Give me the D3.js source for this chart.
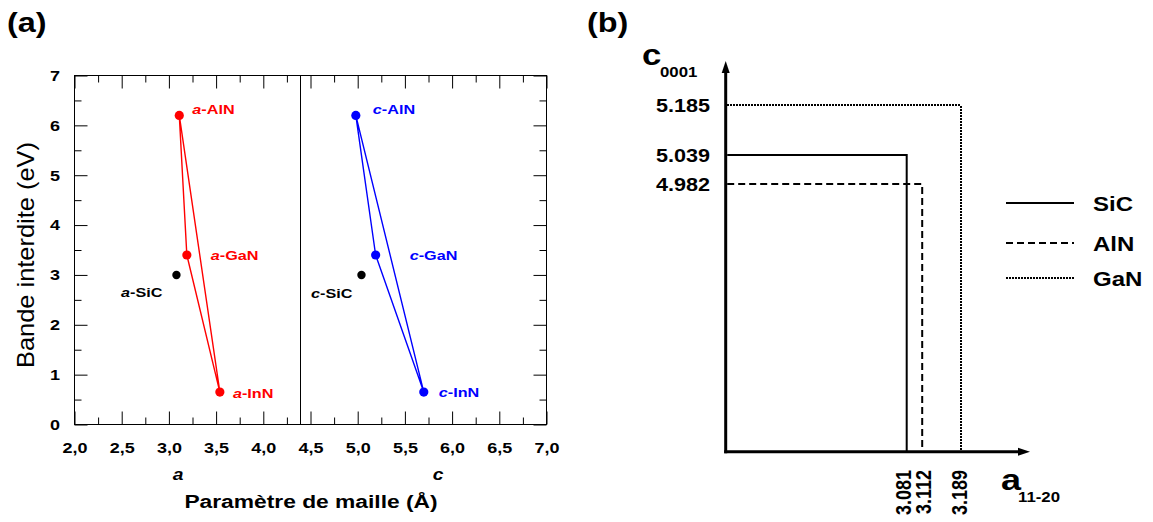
<!DOCTYPE html>
<html><head><meta charset="utf-8">
<script src="https://cdn.jsdelivr.net/npm/d3@7"></script>
<style>
html,body{margin:0;padding:0;background:#fff;}
svg{display:block;font-family:"Liberation Sans",Arial,Helvetica,sans-serif;}
</style>
</head><body>
<svg id="chart" width="1153" height="522"></svg>
<script>
// ---------- Panel (a) data ----------
const compounds = ["AlN", "GaN", "InN"];
const bandGap = [6.2, 3.4, 0.65];
const latticeA = [3.11, 3.19, 3.54];
const latticeC = [4.98, 5.19, 5.70];
const sicGap = 3.0;
const sicA = 3.08;
const sicC = 5.04;
const xTicks = [2, 2.5, 3, 3.5, 4, 4.5, 5, 5.5, 6, 6.5, 7];
const xTickLabels = ["2,0","2,5","3,0","3,5","4,0","4,5","5,0","5,5","6,0","6,5","7,0"];
const yTicks = [0, 1, 2, 3, 4, 5, 6, 7];
const yTickLabels = ["0","1","2","3","4","5","6","7"];
const splitValue = 4.39;
// ---------- Panel (b) data ----------
const materials = ["SiC", "AlN", "GaN"];
const aParam = [3.081, 3.112, 3.189];
const cParam = [5.039, 4.982, 5.185];
const aLabels = ["3.081", "3.112", "3.189"];
const cLabels = ["5.039", "4.982", "5.185"];

const svg = d3.select("#chart");
const SX = 1.2; // horizontal stretch of the original typography

function stretch(sel, x, y, extra) {
  return sel.attr("transform", `translate(${x},${y}) scale(${SX},1)` + (extra ? " " + extra : ""));
}

// ================= Panel (a) =================
const xa = d3.scaleLinear().domain([2, 7]).range([74.5, 546.5]);
const ya = d3.scaleLinear().domain([0, 7]).range([424.5, 75.5]);
const gA = svg.append("g");

const xMinor = d3.range(2.25, 7, 0.5);
const yMinor = d3.range(0.5, 7, 1);

function styleAxis(g) {
  g.select(".domain").remove();
  g.selectAll("line").attr("stroke", "#000").attr("stroke-width", 1);
  g.selectAll("text").attr("font-size", 15).attr("font-weight", "bold")
    .attr("fill", "#000").attr("font-family", "Liberation Sans, Arial, sans-serif");
}

gA.append("g").attr("transform", `translate(0,${ya(0)})`)
  .call(d3.axisBottom(xa).tickValues(xTicks).tickSize(-13).tickPadding(18)
    .tickFormat((d, i) => xTickLabels[i]))
  .call(styleAxis)
  .selectAll("text").attr("transform", `scale(${SX},1)`);
gA.append("g").attr("transform", `translate(0,${ya(0)})`)
  .call(d3.axisBottom(xa).tickValues(xMinor).tickSize(-7).tickFormat(""))
  .call(styleAxis);
gA.append("g").attr("transform", `translate(0,${ya(7)})`)
  .call(d3.axisTop(xa).tickValues(xTicks).tickSize(-13).tickFormat(""))
  .call(styleAxis);
gA.append("g").attr("transform", `translate(0,${ya(7)})`)
  .call(d3.axisTop(xa).tickValues(xMinor).tickSize(-7).tickFormat(""))
  .call(styleAxis);
gA.append("g").attr("transform", `translate(${xa(2)},0)`)
  .call(d3.axisLeft(ya).tickValues(yTicks).tickSize(-13).tickPadding(12)
    .tickFormat((d, i) => yTickLabels[i]))
  .call(styleAxis)
  .selectAll("text").attr("transform", `scale(${SX},1)`);
gA.append("g").attr("transform", `translate(${xa(2)},0)`)
  .call(d3.axisLeft(ya).tickValues(yMinor).tickSize(-7).tickFormat(""))
  .call(styleAxis);
gA.append("g").attr("transform", `translate(${xa(7)},0)`)
  .call(d3.axisRight(ya).tickValues(yTicks).tickSize(-13).tickFormat(""))
  .call(styleAxis);
gA.append("g").attr("transform", `translate(${xa(7)},0)`)
  .call(d3.axisRight(ya).tickValues(yMinor).tickSize(-7).tickFormat(""))
  .call(styleAxis);

// frame
gA.append("rect").attr("x", xa(2)).attr("y", ya(7))
  .attr("width", xa(7) - xa(2)).attr("height", ya(0) - ya(7))
  .attr("fill", "none").attr("stroke", "#000").attr("stroke-width", 1);
// divider between a and c
gA.append("line").attr("x1", Math.round(xa(splitValue)) + 0.5).attr("x2", Math.round(xa(splitValue)) + 0.5)
  .attr("y1", ya(0)).attr("y2", ya(7)).attr("stroke", "#000").attr("stroke-width", 1);

// series
const seriesDefs = [
  { key: "a", vals: latticeA, color: "#ff0000", sic: sicA,
    off: [[13, -1], [24, 5], [13, 6]], sicOff: [-14, 22] },
  { key: "c", vals: latticeC, color: "#0000ff", sic: sicC,
    off: [[17, -1], [34, 5], [15, 5]], sicOff: [-9, 23] }
];

seriesDefs.forEach(s => {
  const pts = compounds.map((c, i) => [xa(s.vals[i]), ya(bandGap[i])]);
  gA.append("path")
    .attr("d", d3.line()(pts) + "Z")
    .attr("fill", "none").attr("stroke", s.color).attr("stroke-width", 1.4)
    .attr("stroke-linejoin", "round");
  gA.selectAll(null).data(pts).join("circle")
    .attr("cx", d => d[0]).attr("cy", d => d[1]).attr("r", 4.6)
    .attr("fill", s.color);
  const sx = xa(s.sic), sy = ya(sicGap);
  gA.append("circle").attr("cx", sx).attr("cy", sy).attr("r", 4.2).attr("fill", "#000");

  compounds.forEach((c, i) => {
    const t = gA.append("text").attr("font-size", 13.5).attr("font-weight", "bold").attr("fill", s.color);
    stretch(t, pts[i][0] + s.off[i][0], pts[i][1] + s.off[i][1]);
    t.append("tspan").attr("font-style", "italic").text(s.key);
    t.append("tspan").text("-" + c);
  });
  const ts = gA.append("text").attr("font-size", 13.5).attr("font-weight", "bold")
    .attr("fill", "#000").attr("text-anchor", "end");
  stretch(ts, sx + s.sicOff[0], sy + s.sicOff[1]);
  ts.append("tspan").attr("font-style", "italic").text(s.key);
  ts.append("tspan").text("-SiC");
});

// axis annotations
stretch(gA.append("text").attr("font-size", 16).attr("font-weight", "bold").attr("font-style", "italic")
  .attr("text-anchor", "middle").text("a"), 178, 480);
stretch(gA.append("text").attr("font-size", 16).attr("font-weight", "bold").attr("font-style", "italic")
  .attr("text-anchor", "middle").text("c"), 438, 480);
stretch(gA.append("text").attr("font-size", 19).attr("font-weight", "bold")
  .attr("text-anchor", "middle").text("Paramètre de maille (Å)"), 311, 508);
stretch(gA.append("text").attr("font-size", 20).attr("font-weight", "normal")
  .attr("text-anchor", "middle").attr("textLength", 226).attr("lengthAdjust", "spacingAndGlyphs")
  .text("Bande interdite (eV)"), 34, 255, "rotate(-90)");
stretch(svg.append("text").attr("font-size", 27).attr("font-weight", "bold").text("(a)"), 7, 32);

// ================= Panel (b) =================
const gB = svg.append("g");
const axX = 725.7, axY = 451.7;
const xb = d3.scaleLinear().domain([3.081, 3.189]).range([906.7, 960.7]);
const yb = d3.scaleLinear().domain([4.982, 5.039, 5.185]).range([184, 155, 105]);
const dashes = { "SiC": null, "AlN": "7,4", "GaN": "2,1" };
const aLabelShift = [-3.5, 1.5, -1];

materials.forEach((m, i) => {
  gB.append("path")
    .attr("d", `M${axX + 1.5},${yb(cParam[i])}H${xb(aParam[i])}V${axY}`)
    .attr("fill", "none").attr("stroke", "#000").attr("stroke-width", 2)
    .attr("stroke-dasharray", dashes[m])
    .attr("shape-rendering", m === "GaN" ? "crispEdges" : null);
  const tc = gB.append("text").attr("font-size", 18).attr("font-weight", "bold")
    .attr("text-anchor", "end").text(cLabels[i]);
  stretch(tc, 710, yb(cParam[i]) + 6.5);
  const ta = gB.append("text").attr("font-size", 18).attr("font-weight", "bold")
    .attr("text-anchor", "end").text(aLabels[i]);
  stretch(ta, xb(aParam[i]) + 7.5 + aLabelShift[i], 470, "rotate(-90)");
});

// axes with arrows
gB.append("line").attr("x1", axX).attr("x2", axX).attr("y1", axY + 1.5).attr("y2", 70)
  .attr("stroke", "#000").attr("stroke-width", 3);
gB.append("path").attr("d", `M${axX},61L${axX - 4},73L${axX + 4},73Z`).attr("fill", "#000");
gB.append("line").attr("x1", axX - 1.5).attr("x2", 1020).attr("y1", axY).attr("y2", axY)
  .attr("stroke", "#000").attr("stroke-width", 3);
gB.append("path").attr("d", `M1030,${axY}L1018,${axY - 4}L1018,${axY + 4}Z`).attr("fill", "#000");

// axis names
stretch(gB.append("text").attr("font-size", 29).attr("font-weight", "bold").text("c"), 642, 65);
stretch(gB.append("text").attr("font-size", 14).attr("font-weight", "bold").text("0001"), 660, 77);
stretch(gB.append("text").attr("font-size", 30).attr("font-weight", "bold").text("a"), 1001, 490);
stretch(gB.append("text").attr("font-size", 14).attr("font-weight", "bold").text("11-20"), 1018, 502);
stretch(svg.append("text").attr("font-size", 27).attr("font-weight", "bold").text("(b)"), 587, 32);

// legend
const legendY = [203, 243, 278];
materials.forEach((m, i) => {
  gB.append("line").attr("x1", 1006).attr("x2", 1074).attr("y1", legendY[i]).attr("y2", legendY[i])
    .attr("stroke", "#000").attr("stroke-width", 2).attr("stroke-dasharray", dashes[m])
    .attr("shape-rendering", m === "GaN" ? "crispEdges" : null);
  stretch(gB.append("text").attr("font-size", 20).attr("font-weight", "bold").text(m), 1093, legendY[i] + 7.5);
});
</script>
</body></html>
